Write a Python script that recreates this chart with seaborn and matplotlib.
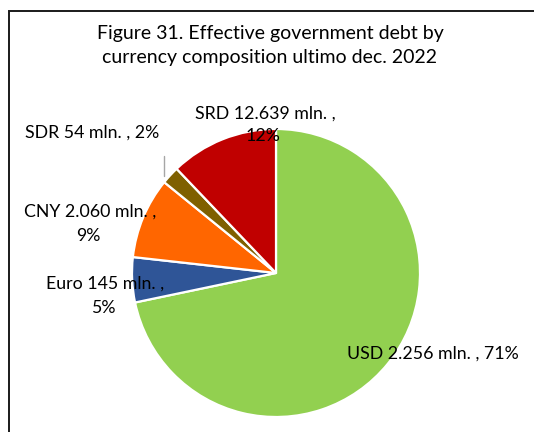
import matplotlib
matplotlib.use("Agg")
import matplotlib.pyplot as plt
import matplotlib.patches as mpatches
import seaborn as sns

sns.set_theme(style="white")
plt.rcParams["font.family"] = ["Lato", "DejaVu Sans"]
plt.rcParams["text.color"] = "black"

# Currency composition of effective government debt, end of December 2022
currencies = ["USD", "Euro", "CNY", "SDR", "SRD"]
amounts = ["2.256", "145", "2.060", "54", "12.639"]
shares = [71, 5, 9, 2, 12]
colors = ["#92D050", "#2F5597", "#FF6600", "#7F6000", "#C00000"]

W, H = 534, 432
CX, CY, R = 276, 273, 144

fig = plt.figure(figsize=(W / 100, H / 100), dpi=100)
fig.patch.set_facecolor("white")

# Chart frame (open to the right and bottom, as cropped)
frame = mpatches.Rectangle((9 / W, -0.1), 1.2, 1 - 11 / H + 0.1,
                           transform=fig.transFigure, fill=False,
                           edgecolor="#1a1a1a", linewidth=1.4, clip_on=False)
fig.patches.append(frame)

ax = fig.add_axes([(CX - R) / W, (H - CY - R) / H, 2 * R / W, 2 * R / H])
ax.pie(shares, colors=colors, startangle=90, counterclock=False, radius=1,
       wedgeprops=dict(edgecolor="white", linewidth=1.6))
ax.set_xlim(-1, 1)
ax.set_ylim(-1, 1)
ax.set_aspect("equal")
ax.axis("off")


def fx(px):
    return px / W


def fy(py):
    return 1 - py / H


tfs = 14
fig.text(fx(270), fy(33), "Figure 31. Effective government debt by",
         ha="center", va="center", fontsize=tfs, color="black")
fig.text(fx(270), fy(58), "currency composition ultimo dec. 2022",
         ha="center", va="center", fontsize=tfs, color="black")

lab = {c: (a, s) for c, a, s in zip(currencies, amounts, shares)}
fs = 12.8
kw = dict(ha="center", va="center", fontsize=fs, color="black")

a, s = lab["SRD"]
fig.text(fx(265), fy(114), f"SRD {a} mln. ,", **kw)
fig.text(fx(263), fy(136), f"{s}%", **kw)

a, s = lab["SDR"]
fig.text(fx(92), fy(133), f"SDR {a} mln. , {s}%", **kw)
fig.add_artist(plt.Line2D([fx(164), fx(164)], [fy(156), fy(176)],
                          color="#A6A6A6", linewidth=1.0))

a, s = lab["CNY"]
fig.text(fx(90), fy(212), f"CNY {a} mln. ,", **kw)
fig.text(fx(88), fy(236), f"{s}%", **kw)

a, s = lab["Euro"]
fig.text(fx(105), fy(284), f"Euro {a} mln. ,", **kw)
fig.text(fx(103), fy(308), f"{s}%", **kw)

a, s = lab["USD"]
fig.text(fx(433), fy(354), f"USD {a} mln. , {s}%", **kw)

fig.savefig("out.png", dpi=100, facecolor="white")
